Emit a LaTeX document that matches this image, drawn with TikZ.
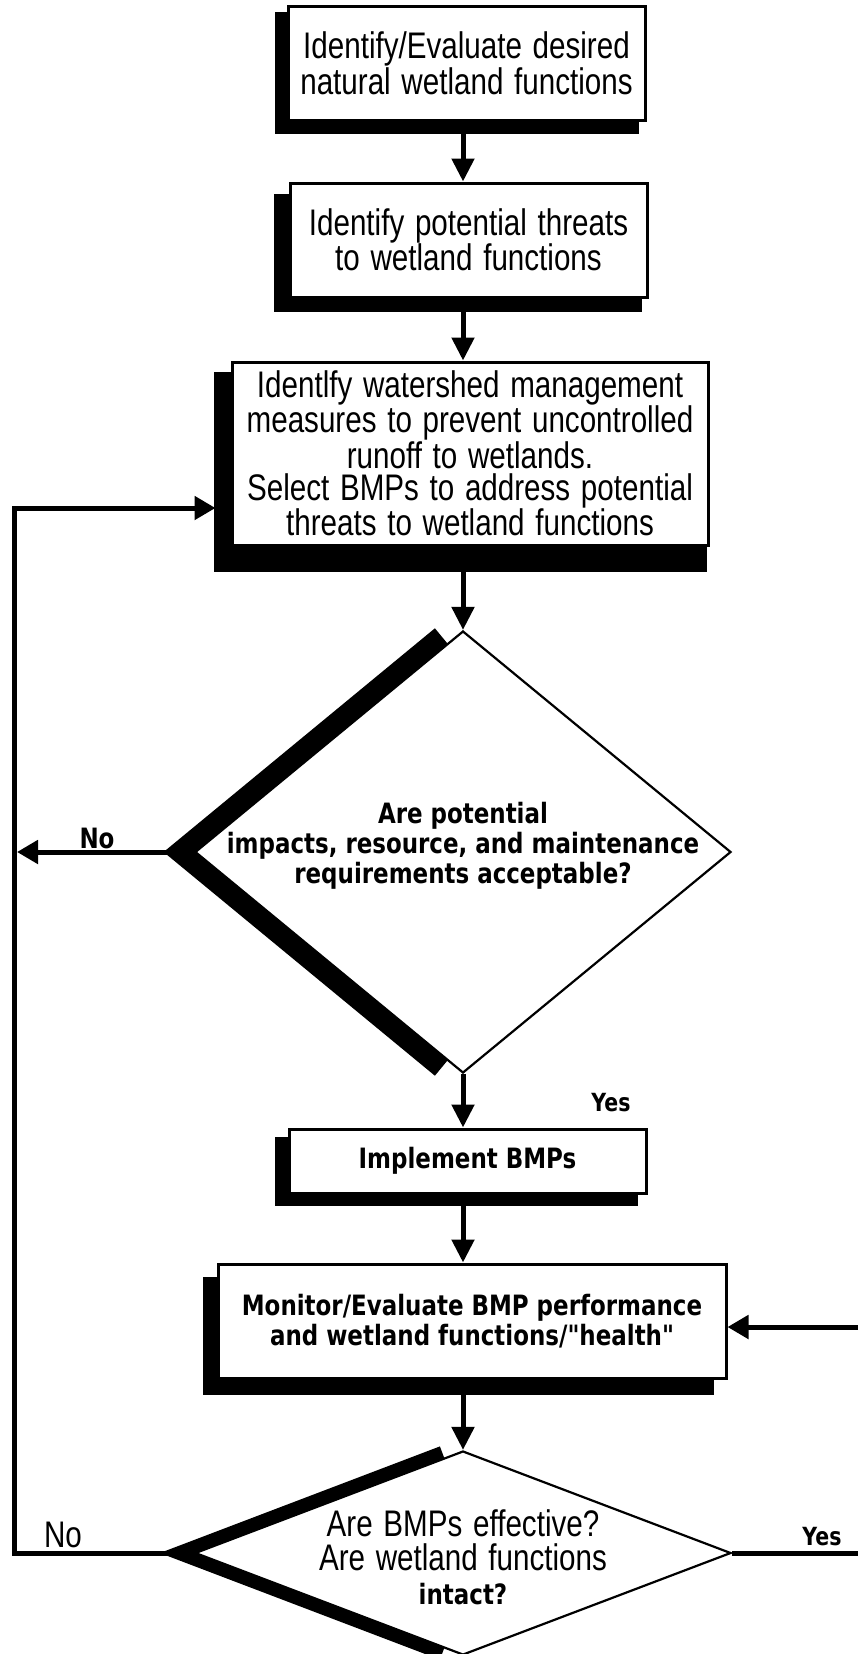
\documentclass[tikz,border=0pt]{standalone}
\usepackage{fontspec}
\usetikzlibrary{arrows.meta,calc,shapes.geometric,backgrounds}
\newfontfamily\condf[FakeStretch=0.8,WordSpace=1.3]{Liberation Sans}
\newfontfamily\boldf[FakeStretch=0.82]{DejaVu Sans}
\tikzset{
  boxnode/.style={draw, line width=3pt, fill=white, inner sep=0pt, align=center},
  condtext/.style={font=\condf\fontsize{37}{32}\selectfont},
  boldtext/.style={font=\boldf\bfseries\fontsize{28}{30}\selectfont},
  labeltext/.style={font=\boldf\bfseries\fontsize{25}{30}\selectfont},
  decision/.style={shape=diamond, draw, line width=2.2pt, fill=white, inner sep=0pt},
  flow/.style={line width=5pt, -{Triangle[length=23pt,width=22pt]}},
  loopline/.style={line width=5pt, line join=miter, -{Triangle[length=21pt,width=23pt]}},
}
\begin{document}
\begin{tikzpicture}[x=1pt,y=-1pt]
\useasboundingbox (0,0) rectangle (858,1654);
\coordinate (ax) at (463,0);

% boxes
\node[boxnode, condtext, minimum width=357pt, minimum height=113pt] (b1) at (466.5,63.5) {Identify/Evaluate desired\\natural wetland functions};
\node[boxnode, condtext, minimum width=357pt, minimum height=114pt] (b2) at (468.5,240) {Identify potential threats\\to wetland functions};
\node[boxnode, condtext, minimum width=476pt, minimum height=183pt] (b3) at (470,453.5) {Identlfy watershed management\\measures to prevent uncontrolled\\runoff to wetlands.\\Select BMPs to address potential\\threats to wetland functions};
\node[boxnode, boldtext, minimum width=357pt, minimum height=64pt] (b4) at (467.5,1161) {Implement BMPs};
\node[boxnode, boldtext, minimum width=508pt, minimum height=114pt] (b5) at (472,1321) {Monitor/Evaluate BMP performance\\and wetland functions/"health"};

% shadows
\begin{pgfonlayer}{background}
\fill ($(b1.north west)+(-12,7)$) rectangle ($(b1.south east)+(-8,12)$);
\fill ($(b2.north west)+(-15,12)$) rectangle ($(b2.south east)+(-7,13)$);
\fill ($(b3.north west)+(-17,11)$) rectangle ($(b3.south east)+(-3,25)$);
\fill ($(b4.north west)+(-13,9)$) rectangle ($(b4.south east)+(-10,11)$);
\fill ($(b5.north west)+(-14,14)$) rectangle ($(b5.south east)+(-14,15)$);
\end{pgfonlayer}

% decision 1
\fill (447.6,643.7) -- (434.9,628.3) -- (163.6,852) -- (434.9,1075.7) -- (447.6,1060.3) -- (195,852) -- cycle;
\node[decision, minimum width=536pt, minimum height=442pt] (d1) at (463,852) {};
\node[boldtext, align=center] (t1) at (463,846) {Are potential\\impacts, resource, and maintenance\\requirements acceptable?};

% decision 2
\fill (444.3,1458.1) -- (439.9,1446.4) -- (159.9,1553) -- (439.9,1659.6) -- (444.3,1647.9) -- (195,1553) -- cycle;
\node[decision, minimum width=536pt, minimum height=204pt] (d2) at (463,1553) {};
\node[font=\condf\fontsize{37}{34}\selectfont, align=center] (t2) at (463,1557) {Are BMPs effective?\\Are wetland functions\\{\boldf\bfseries\fontsize{28}{34}\selectfont intact?}};

% main flow
\draw[flow] (b1.south -| ax) -- (b2.north -| ax);
\draw[flow] (b2.south -| ax) -- (b3.north -| ax);
\draw[flow] (b3.south -| ax) -- (d1.north);
\draw[flow] (d1.south) -- (b4.north -| ax);
\draw[flow] (b4.south -| ax) -- (b5.north -| ax);
\draw[flow] (b5.south -| ax) -- (d2.north);

% loops
\coordinate (lt) at (14.5,508);
\coordinate (lb) at (14.5,1553);
\coordinate (rt) at (866,1327);
\coordinate (rb) at (866,1553);
\draw[loopline, shorten >=15pt] (d2.west) -- (lb) -- (lt) -- (lt -| b3.west);
\draw[loopline, shorten >=2.5pt] (d1.west) -- (d1.west -| lt);
\draw[loopline] (d2.east) -- (rb) -- (rt) -- (rt -| b5.east);

% labels
\node[boldtext] (no1) at (97,838) {No};
\node[labeltext] (yes1) at (611,1103) {Yes};
\node[condtext] (no2) at (63,1535) {No};
\node[labeltext] (yes2) at (822,1537) {Yes};
\end{tikzpicture}
\end{document}
